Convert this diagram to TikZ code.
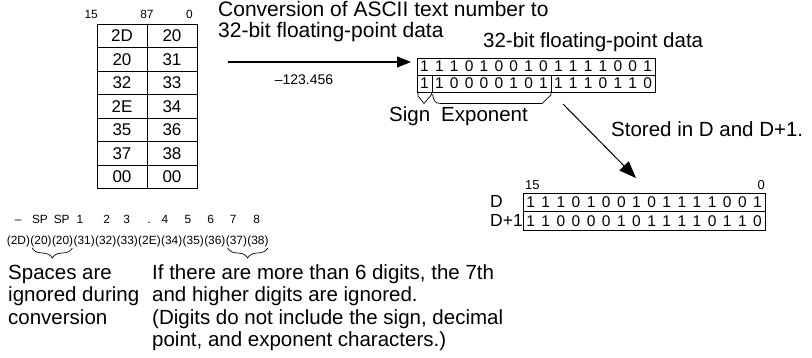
\documentclass[tikz,border=0pt]{standalone}
\usepackage{fontspec}
\setmainfont{Liberation Sans}
\usetikzlibrary{arrows.meta,decorations.pathreplacing}
\begin{document}
\begin{tikzpicture}[x=1pt,y=-1pt,
  txt/.style={font=\fontsize{20.5}{22}\selectfont, inner sep=0pt, anchor=base west},
  small/.style={font=\fontsize{11.9}{13}\selectfont, inner sep=0pt, anchor=base},
  cell/.style={draw, line width=0.8pt, minimum width=50pt, minimum height=23.5pt, inner sep=0pt, font=\fontsize{17}{17}\selectfont},
  regrow/.style={draw, line width=0.8pt, inner sep=0pt, anchor=north west},
  bitd/.style={font=\fontsize{15.5}{15.5}\selectfont, inner sep=0pt},
  lnk/.style={line width=0.8pt},
  brc/.style={line width=0.7pt},
  ]
\useasboundingbox (0,0) rectangle (812,358);

% ---- table ----
\foreach \L/\R [count=\r] in {2D/20,20/31,32/33,2E/34,35/36,37/38,00/00}{
  \node[cell] (tL\r) at (122,{24+(\r-0.5)*23.5}) {\L};
  \node[cell] (tR\r) at (172,{24+(\r-0.5)*23.5}) {\R};
}
\node[small, anchor=base east] (l15) at (98,19) {15};
\node[small] (l87) at (147,19) {87};
\node[small, anchor=base east] (l0) at (193,19) {0};

% ---- title and arrow ----
\node[txt, font=\fontsize{21}{22}\selectfont] (title1) at (218,17) {Conversion of ASCII text number to};
\node[txt, font=\fontsize{21}{22}\selectfont] (title2) at (218,38) {32-bit floating-point data};
\coordinate (a0) at (228,62);
\coordinate (a1) at (411,62);
\draw[line width=1.2pt, -{Triangle[length=14pt,width=11pt]}] (a0) -- (a1);
\node[font=\fontsize{14}{14}\selectfont, inner sep=0pt] (val) at (304,80) {–123.456};

% ---- upper register ----
\node[txt] (fpd) at (483,48) {32-bit floating-point data};
\node[regrow, minimum width=238pt, minimum height=16.7pt] (r1) at (417,58.3) {};
\node[regrow, minimum width=238pt, minimum height=16.7pt] (r2) at (417,75) {};
\foreach \d [count=\i] in {1,1,1,0,1,0,0,1,0,1,1,1,1,0,0,1}
  \node[bitd] (u\i) at ({417+(\i-0.5)*14.875},66.65) {\d};
\foreach \d [count=\i] in {1,1,0,0,0,0,1,0,1,1,1,1,0,1,1,0}
  \node[bitd] (v\i) at ({417+(\i-0.5)*14.875},83.35) {\d};
\draw[lnk] (431.9,75) -- (431.9,91.7);
\draw[lnk] (550.9,75) -- (550.9,91.7);
% sign / exponent braces
\draw[brc] (418,91.7) -- (418,96) -- (424,103.5) -- (431.2,95) -- (431.9,91.7);
\draw[brc] (432.6,94) .. controls (433.5,101) and (435,103.5) .. (441,103.5) -- (542,103.5) -- (550.9,95) -- (550.9,91.7);
\node[txt] (sign) at (389,122) {Sign};
\node[txt] (expo) at (441,122) {Exponent};

% ---- store arrow ----
\node[txt] (stored) at (611,137) {Stored in D and D+1.};
\coordinate (d0) at (563,104);
\coordinate (d1) at (636,178);
\draw[line width=1pt, -{Triangle[length=17pt,width=13pt]}] (d0) -- (d1);

% ---- lower register ----
\node[small, anchor=base west, font=\fontsize{13}{13}\selectfont] (m15) at (525,190) {15};
\node[small, anchor=base east, font=\fontsize{13}{13}\selectfont] (m0) at (765,190) {0};
\node[regrow, minimum width=242pt, minimum height=18.5pt] (w1) at (523,193) {};
\node[regrow, minimum width=242pt, minimum height=18.5pt] (w2) at (523,211.5) {};
\foreach \d [count=\i] in {1,1,1,0,1,0,0,1,0,1,1,1,1,0,0,1}
  \node[bitd] (p\i) at ({523+(\i-0.5)*15.125},202.25) {\d};
\foreach \d [count=\i] in {1,1,0,0,0,0,1,0,1,1,1,1,0,1,1,0}
  \node[bitd] (q\i) at ({523+(\i-0.5)*15.125},220.75) {\d};
\node[txt, font=\fontsize{17.5}{18}\selectfont] (dlab) at (490,208) {D};
\node[txt, font=\fontsize{17.5}{18}\selectfont] (d1lab) at (490,226.5) {D+1};

% ---- ASCII string ----
\node[small, anchor=base west] (g1) at (6.7,245) {(2D)};
\foreach \t [count=\i from 2] in {(20),(20),(31),(32),(33),(2E),(34),(35),(36),(37),(38)}{
  \pgfmathtruncatemacro{\j}{\i-1}
  \node[small, anchor=base west] (g\i) at (g\j.base east) {\t};
}
\foreach \c/\xx [count=\i] in {–/18.3,SP/40,SP/61.7,1/80,2/106.7,3/126.7,./149,4/165,5/188,6/210.7,7/233.3,8/256.7}
  \node[small] (c\i) at (\xx,224) {\c};
\coordinate (b1s) at ([xshift=2pt]g2.west |- 0,248);
\coordinate (b1e) at ([xshift=-1pt]g3.east |- 0,248);
\coordinate (b2s) at ([xshift=2pt]g11.west |- 0,248);
\coordinate (b2e) at ([xshift=-1pt]g12.east |- 0,248);
\draw[brc, decorate, decoration={brace, mirror, amplitude=10pt}] (b1s) -- (b1e);
\draw[brc, decorate, decoration={brace, mirror, amplitude=10pt}] (b2s) -- (b2e);

% ---- notes ----
\node[txt] (n1) at (8,280) {Spaces are};
\node[txt] (n2) at (8,302) {ignored during};
\node[txt] (n3) at (8,324) {conversion};
\node[txt] (m1) at (152,280) {If there are more than 6 digits, the 7th};
\node[txt] (m2) at (152,302) {and higher digits are ignored.};
\node[txt] (m3) at (152,324) {(Digits do not include the sign, decimal};
\node[txt] (m4) at (152,346) {point, and exponent characters.)};
\end{tikzpicture}
\end{document}
